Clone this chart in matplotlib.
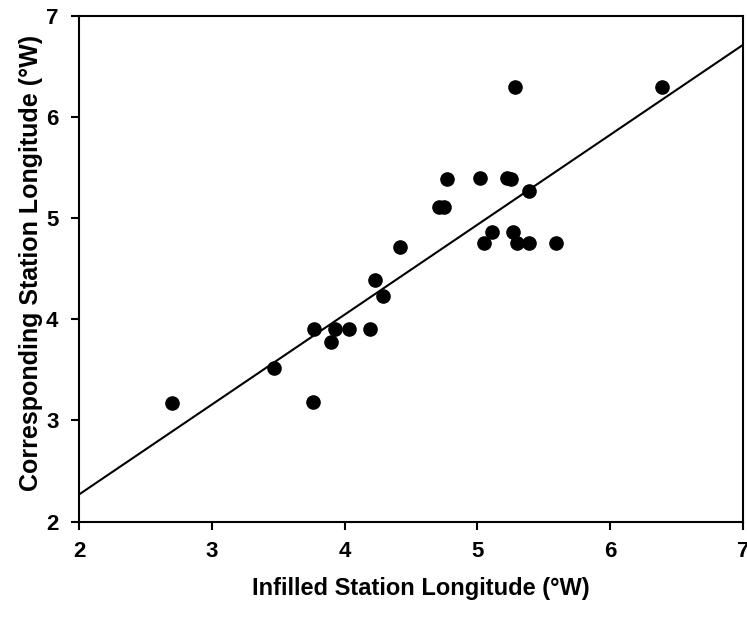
import numpy as np
import matplotlib

matplotlib.use("Agg")
import matplotlib.pyplot as plt

# infilled station longitude (x) vs corresponding station longitude (y), degrees W
infilled_lon = [2.70, 3.47, 3.76, 3.77, 3.90, 3.93, 4.03, 4.19, 4.23, 4.29,
                4.42, 4.71, 4.75, 4.77, 5.02, 5.05, 5.11, 5.22, 5.25, 5.27,
                5.28, 5.30, 5.39, 5.39, 5.59, 6.39]
corresp_lon = [3.17, 3.52, 3.18, 3.90, 3.77, 3.90, 3.90, 3.90, 4.39, 4.23,
               4.71, 5.11, 5.11, 5.38, 5.39, 4.75, 4.86, 5.39, 5.38, 4.86,
               6.29, 4.75, 5.27, 4.75, 4.75, 6.29]

# fitted line
fit_slope = 0.888
fit_intercept = 0.493

ticks = [2, 3, 4, 5, 6, 7]

plt.rcParams["font.family"] = ["Liberation Sans", "DejaVu Sans"]
plt.rcParams["font.weight"] = "bold"

fig = plt.figure(figsize=(7.47, 6.21), dpi=100)
ax = fig.add_axes([0.1062, 0.1602, 0.8882, 0.8148])

xs = np.array([2, 7])
ax.plot(xs, fit_slope * xs + fit_intercept, color="black", linewidth=1.5)
ax.plot(infilled_lon, corresp_lon, "o", color="black", markersize=9.5,
        clip_on=False)

ax.set_xlim(2, 7)
ax.set_ylim(2, 7)
ax.set_xticks(ticks)
ax.set_yticks(ticks)
ax.tick_params(direction="out", length=6, width=1.5, labelsize=16)
ax.tick_params(axis="x", pad=8)
ax.tick_params(axis="y", pad=9)
for sp in ax.spines.values():
    sp.set_linewidth(1.5)

# the "7" on the x axis sits on the image edge, as in the source figure
fig.text(0.5627, 0.053, "Infilled Station Longitude (°W)", fontsize=17,
         fontweight="bold", ha="center", va="center")
fig.text(0.042, 0.577, "Corresponding Station Longitude (°W)", fontsize=18,
         fontweight="bold", ha="center", va="center", rotation=90)

fig.savefig("out.png", dpi=100)
